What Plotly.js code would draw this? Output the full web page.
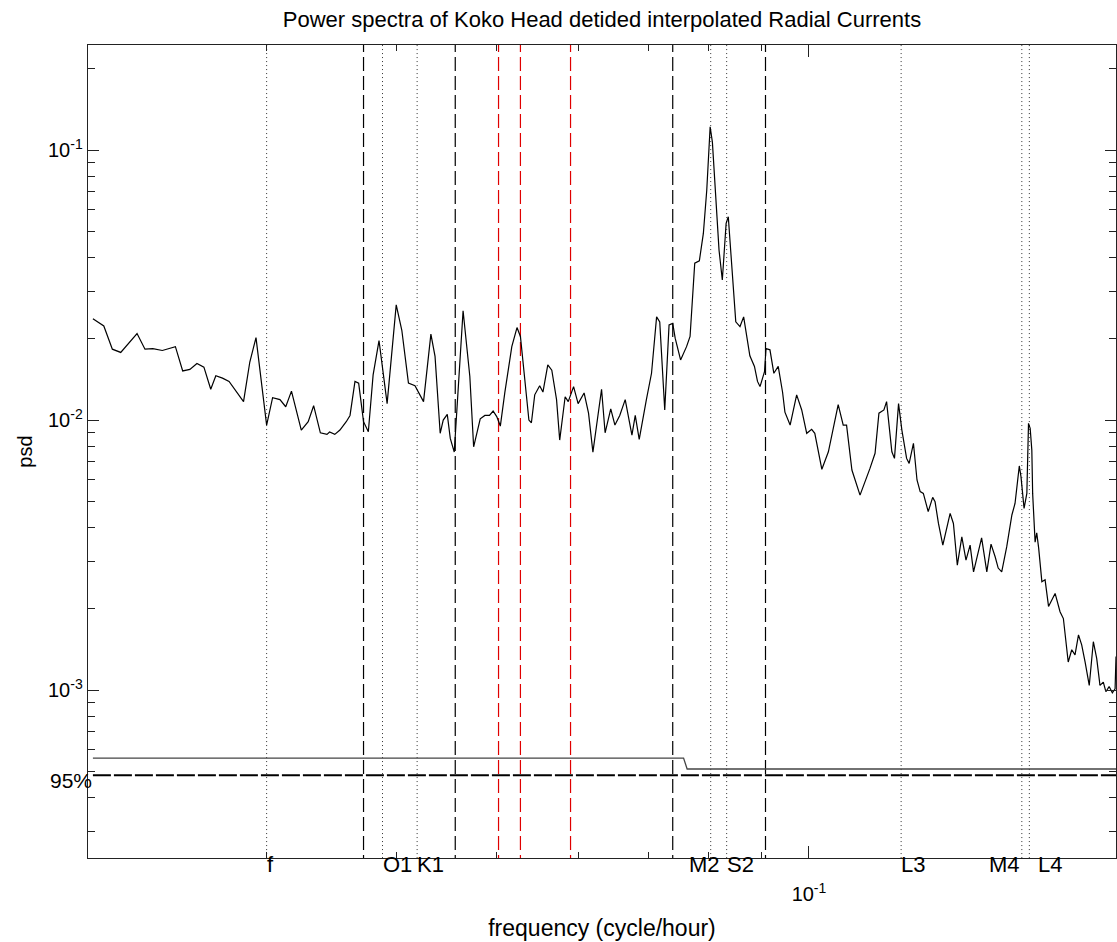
<!DOCTYPE html>
<html>
<head>
<meta charset="utf-8">
<script src="https://cdn.plot.ly/plotly-3.0.1.min.js"></script>
<style>
html,body{margin:0;padding:0;background:#fff;}
#chart{width:1117px;height:942px;}
</style>
</head>
<body>
<div id="chart"></div>
<script>
// ---- data ----
const freq = [0.0204,0.0209,0.0213,0.0217,0.0225,0.0229,0.0233,0.0238,0.0245,0.0249,0.0253,0.0257,0.0261,0.0265,0.0268,0.0272,0.0276,0.0285,0.0289,0.0293,
0.0300,0.0304,0.0309,0.0313,0.0317,0.0324,0.0329,0.0333,0.0338,0.0343,0.0345,0.0349,0.0353,0.0358,0.0361,0.0365,0.0368,0.0372,0.0376,0.0380,
0.0385,0.0392,0.0400,0.0405,0.0411,0.0417,0.0425,0.0432,0.0436,0.0441,0.0444,0.0448,0.0451,0.0455,0.0464,0.0471,0.0475,0.0482,0.0487,0.0492,
0.0496,0.0500,0.0504,0.0509,0.0517,0.0523,0.0527,0.0532,0.0537,0.0540,0.0544,0.0550,0.0554,0.0560,0.0565,0.0571,0.0575,0.0582,0.0586,0.0593,
0.0599,0.0607,0.0613,0.0619,0.0631,0.0636,0.0644,0.0650,0.0657,0.0665,0.0675,0.0680,0.0686,0.0697,0.0705,0.0713,0.0718,0.0726,0.0733,0.0739,
0.0743,0.0752,0.0762,0.0768,0.0776,0.0784,0.0791,0.0797,0.0803,0.0807,0.0813,0.0819,0.0825,0.0832,0.0836,0.0840,0.0850,0.0858,0.0865,0.0877,
0.0886,0.0892,0.0897,0.0906,0.0909,0.0917,0.0925,0.0934,0.0943,0.0948,0.0959,0.0973,0.0984,0.0995,0.1006,0.1013,0.1029,0.1044,0.1067,0.1079,
0.1087,0.1100,0.1120,0.1145,0.1158,0.1168,0.1181,0.1188,0.1202,0.1209,0.1220,0.1229,0.1242,0.1249,0.1261,0.1271,0.1280,0.1289,0.1303,0.1316,
0.1323,0.1333,0.1346,0.1368,0.1378,0.1390,0.1404,0.1417,0.1430,0.1441,0.1455,0.1467,0.1484,0.1498,0.1512,0.1522,0.1534,0.1551,0.1569,0.1580,
0.1595,0.1601,0.1612,0.1622,0.1628,0.1634,0.1640,0.1643,0.1652,0.1658,0.1665,0.1677,0.1689,0.1702,0.1727,0.1746,0.1759,0.1778,0.1792,0.1805,
0.1819,0.1832,0.1846,0.1863,0.1880,0.1894,0.1908,0.1922,0.1933,0.1947,0.1961,0.1973,0.1977];
const psd = [0.0237,0.0223,0.0183,0.0178,0.0209,0.0183,0.0184,0.0181,0.0187,0.0152,0.0154,0.0162,0.0157,0.0130,0.0146,0.0143,0.0139,0.0117,0.0164,0.0202,
0.00958,0.0121,0.0119,0.0112,0.0128,0.00918,0.00986,0.0113,0.00897,0.00885,0.00903,0.00885,0.00918,0.00986,0.0104,0.0139,0.0137,0.00986,0.00905,0.0147,
0.0197,0.0115,0.0267,0.0215,0.0137,0.0134,0.0117,0.0208,0.0172,0.00893,0.0100,0.0105,0.00855,0.00761,0.0254,0.0145,0.00796,0.0101,0.0104,0.0104,
0.0108,0.0103,0.00950,0.0126,0.0187,0.0220,0.0204,0.0141,0.0100,0.00977,0.0124,0.0134,0.0127,0.0160,0.0153,0.0119,0.00843,0.0122,0.0117,0.0133,
0.0115,0.0126,0.0106,0.00761,0.0130,0.00897,0.0110,0.00958,0.0104,0.0119,0.00880,0.0104,0.00848,0.0119,0.0149,0.0241,0.0231,0.0109,0.0225,0.0228,
0.0201,0.0167,0.0187,0.0204,0.0381,0.0389,0.0491,0.0711,0.122,0.107,0.0671,0.0426,0.0330,0.0535,0.0566,0.0438,0.0231,0.0222,0.0241,0.0173,
0.0158,0.0139,0.0133,0.0151,0.0184,0.0182,0.0149,0.0158,0.0127,0.0107,0.00958,0.0124,0.0109,0.00893,0.00924,0.00893,0.00657,0.00763,0.0114,0.00958,
0.00958,0.00653,0.00527,0.00662,0.00753,0.0106,0.0109,0.0117,0.00763,0.00721,0.0115,0.00918,0.00721,0.00691,0.00820,0.00600,0.00543,0.00535,0.00458,0.00517,
0.00498,0.00414,0.00344,0.00451,0.00414,0.00290,0.00369,0.00303,0.00344,0.00274,0.00322,0.00366,0.00274,0.00347,0.00311,0.00283,0.00274,0.00339,0.00445,0.00491,
0.00676,0.00617,0.00471,0.00535,0.00972,0.00932,0.00774,0.00535,0.00353,0.00382,0.00336,0.00252,0.00256,0.00204,0.00228,0.00195,0.00184,0.00127,0.00141,0.00135,
0.00160,0.00147,0.00127,0.00104,0.00151,0.00131,0.00104,0.00107,0.000986,0.00103,0.000977,0.00101,0.00133];

// confidence level line (solid) and 95% level (dashed)
const confFreq = [0.0204, 0.0757, 0.0763, 0.1977];
const confPsd  = [0.000560, 0.000560, 0.000510, 0.000510];
const sig95Freq = [0.0204, 0.1977];
const sig95Psd  = [0.000484, 0.000484];

// tidal constituent frequencies (dotted lines) and labels
const tideFreq  = [0.0300, 0.0388, 0.0419, 0.0804, 0.0833, 0.1227, 0.1604, 0.1631];
const tideNames = ['f', 'O1', 'K1', 'M2', 'S2', 'L3', 'M4', 'L4'];
const tideShift = [0, 0, 0, -22, 0, 0, -33, 9];   // label offsets in px
// band edges (black dashed) and red dashed lines
const bandFreq = [0.0372, 0.0456, 0.0739, 0.0908];
const redFreq  = [0.0502, 0.0527, 0.0589];

// tick labels
const yTickVals = [0.1, 0.01, 0.001];
const yTickText = ['10<sup>-1</sup>', '10<sup>-2</sup>', '10<sup>-3</sup>'];
const xTickVals = [0.1];
const xTickText = ['10<sup>-1</sup>'];

// ---- build ----
const Y_LO = 1e-5, Y_HI = 10;
function vlines(fs) {
  const x = [], y = [];
  fs.forEach(f => { x.push(f, f, null); y.push(Y_LO, Y_HI, null); });
  return {x, y};
}
const yMinor = [];
[1e-4, 1e-3, 1e-2, 1e-1].forEach(d => { for (let k = 2; k <= 9; k++) yMinor.push(k * d); });
const xMinor = [0.03, 0.04, 0.05, 0.06, 0.07, 0.08, 0.09, 0.2];

const FONT = 'Liberation Sans, Arial, Helvetica, sans-serif';

const dot = vlines(tideFreq), dash = vlines(bandFreq), red = vlines(redFreq);
const traces = [
  {x: dot.x, y: dot.y, mode: 'lines', line: {color: '#333', width: 1, dash: '1px,3px'}, hoverinfo: 'skip'},
  {x: dash.x, y: dash.y, mode: 'lines', line: {color: '#000', width: 1.2, dash: '14px,5px'}, hoverinfo: 'skip'},
  {x: red.x, y: red.y, mode: 'lines', line: {color: '#e00000', width: 1.2, dash: '14px,5px'}, hoverinfo: 'skip'},
  {x: confFreq, y: confPsd, mode: 'lines', line: {color: '#444', width: 1.3}},
  {x: sig95Freq, y: sig95Psd, mode: 'lines', line: {color: '#000', width: 2, dash: '18px,3px'}},
  {x: freq, y: psd, mode: 'lines', line: {color: '#000', width: 1.2}}
];

const annotations = tideNames.map((n, i) => ({
  text: n, xref: 'x', yref: 'paper', x: Math.log10(tideFreq[i]), y: 0,
  xanchor: 'left', yanchor: 'middle', xshift: tideShift[i] - 2, yshift: -6,
  showarrow: false, font: {family: FONT, size: 22, color: '#000'}
}));
annotations.push({
  text: '95%', xref: 'paper', yref: 'y', x: 0, y: Math.log10(sig95Psd[0]),
  xanchor: 'right', yanchor: 'middle', xshift: 6, yshift: -5,
  showarrow: false, font: {family: FONT, size: 21, color: '#000'}
});

const layout = {
  width: 1117, height: 942,
  margin: {l: 88, r: 1, t: 45, b: 84, pad: 0},
  paper_bgcolor: '#fff', plot_bgcolor: '#fff',
  showlegend: false,
  font: {family: FONT, color: '#000'},
  title: {text: 'Power spectra of Koko Head detided interpolated Radial Currents',
          font: {family: FONT, size: 22, color: '#000'},
          xref: 'paper', x: 0.5, xanchor: 'center', yref: 'container', y: 0.979, yanchor: 'middle'},
  xaxis: {
    type: 'log', range: [-1.6951, -0.7040],
    showgrid: false, zeroline: false,
    showline: true, linecolor: '#222', linewidth: 1.3, mirror: 'ticks',
    tickmode: 'array', tickvals: xTickVals, ticktext: xTickText,
    ticks: 'inside', ticklen: 12, tickwidth: 1, tickcolor: '#222',
    ticklabelstandoff: 18,
    tickfont: {family: FONT, size: 20, color: '#000'},
    minor: {tickmode: 'array', tickvals: xMinor, ticks: 'inside', ticklen: 6, tickwidth: 1, tickcolor: '#222', showgrid: false},
    title: {text: 'frequency (cycle/hour)', font: {family: FONT, size: 23, color: '#000'}, standoff: 15}
  },
  yaxis: {
    type: 'log', range: [-3.622, -0.611],
    showgrid: false, zeroline: false,
    showline: true, linecolor: '#222', linewidth: 1.3, mirror: 'ticks',
    tickmode: 'array', tickvals: yTickVals, ticktext: yTickText,
    ticks: 'inside', ticklen: 11, tickwidth: 1, tickcolor: '#222',
    tickfont: {family: FONT, size: 20, color: '#000'},
    minor: {tickmode: 'array', tickvals: yMinor, ticks: 'inside', ticklen: 7, tickwidth: 1, tickcolor: '#222', showgrid: false},
    title: {text: 'psd', font: {family: FONT, size: 20, color: '#000'}, standoff: 10}
  },
  annotations: annotations
};

Plotly.newPlot('chart', traces, layout, {displayModeBar: false, staticPlot: true});
</script>
</body>
</html>
